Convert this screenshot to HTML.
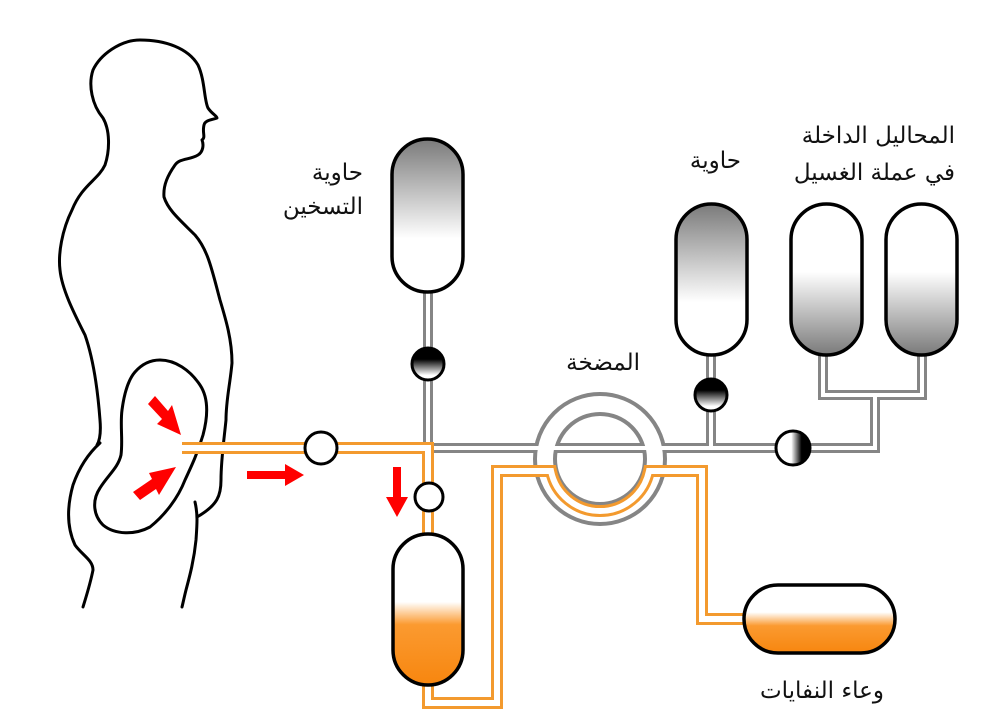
<!DOCTYPE html>
<html><head><meta charset="utf-8"><style>
html,body{margin:0;padding:0;background:#fff;}
svg{display:block}
text{font-family:"DejaVu Serif","Noto Serif CJK SC","Liberation Serif",serif;font-size:23px;fill:#111}
</style></head><body>
<svg width="1000" height="713" viewBox="0 0 1000 713" xmlns="http://www.w3.org/2000/svg">
<defs>
<linearGradient id="gTop" x1="0" y1="0" x2="0" y2="1">
<stop offset="0" stop-color="#7a7a7a"/><stop offset="0.65" stop-color="#fff"/><stop offset="1" stop-color="#fff"/></linearGradient>
<linearGradient id="gBot" x1="0" y1="0" x2="0" y2="1">
<stop offset="0" stop-color="#fff"/><stop offset="0.45" stop-color="#fff"/><stop offset="1" stop-color="#7a7a7a"/></linearGradient>
<linearGradient id="gOr" x1="0" y1="0" x2="0" y2="1">
<stop offset="0" stop-color="#fff"/><stop offset="0.45" stop-color="#fff"/><stop offset="0.6" stop-color="#fb9a30"/><stop offset="1" stop-color="#f7860f"/></linearGradient>
<linearGradient id="gOr2" x1="0" y1="0" x2="0" y2="1">
<stop offset="0" stop-color="#fff"/><stop offset="0.4" stop-color="#fff"/><stop offset="0.6" stop-color="#fb9a30"/><stop offset="1" stop-color="#f7860f"/></linearGradient>
<linearGradient id="vV" x1="0" y1="0" x2="0" y2="1">
<stop offset="0" stop-color="#000"/><stop offset="0.35" stop-color="#000"/><stop offset="0.85" stop-color="#fff"/></linearGradient>
<linearGradient id="vH" x1="0" y1="0" x2="1" y2="0">
<stop offset="0" stop-color="#fff"/><stop offset="0.45" stop-color="#fff"/><stop offset="0.75" stop-color="#000"/><stop offset="1" stop-color="#000"/></linearGradient>
</defs>

<!-- body -->
<g fill="none" stroke="#000" stroke-width="3" stroke-linejoin="round" stroke-linecap="round">
<path d="M140,40 C120,40 100,55 93,70 C88,85 92,105 103,118 C110,130 110,150 105,165 C98,180 82,185 72,210 C62,230 58,254 60,270 C62,290 75,315 85,335 C92,355 97,380 100,420 C101,432 100,440 97,445"/>
<path d="M100,443 C90,452 80,465 73,485 C66,510 68,530 75,545 C82,555 93,560 93,570 C90,585 86,597 83,607"/>
<path d="M140,40 C165,40 188,48 198,65 C205,80 204,100 208,108 C212,114 217,116 217,118 C212,120 205,120 204,125 C202,133 206,137 202,140 C204,145 203,152 198,155 C190,160 180,158 175,165 C168,175 163,185 164,197 C168,210 180,220 195,235 C208,250 212,270 220,300 C226,320 232,340 232,363 C230,385 226,400 226,420 C224,440 221,460 221,480 C221,495 218,505 197,517"/>
<path d="M195,502 C198,515 197,525 196,540 C194,560 190,575 186,590 C184,598 183,603 182,607"/>
<path d="M160,360 C175,360 190,370 200,385 C210,400 207,420 203,435 C198,452 192,465 185,480 C178,498 165,515 150,527 C135,535 115,535 103,525 C93,515 92,500 100,488 C108,475 118,468 121,455 C123,440 120,425 122,410 C124,395 128,380 135,372 C142,364 150,360 160,360 Z"/>
</g>

<!-- red arrows -->
<g fill="#f00">
<polygon points="148,404 155,396 168,411 172,405 181,435 157,424 162,419"/>
<polygon points="133,492 140,500 156,489 159,495 176,467 149,473 152,479"/>
<polygon points="247,471 285,471 285,464 304,475 285,486 285,479 247,479"/>
<polygon points="393,467 401,467 401,497 408,497 397,517 386,497 393,497"/>
<polygon points="424,562 432,562 432,628 441,628 428,652 415,628 424,628"/>
</g>

<!-- gray pipes -->
<g fill="none" stroke-linejoin="miter">
<g stroke="#858585" stroke-width="10">
<path d="M428,292 V448 H793"/>
<path d="M711,355 V448"/>
<path d="M823,355 V395 H922 V355"/>
<path d="M793,448 H875 V395"/>
<circle cx="600" cy="459" r="55" stroke-width="24"/>
</g>
<g stroke="#fff" stroke-width="4">
<path d="M428,288 V448 H793"/>
<path d="M711,355 V448"/>
<path d="M823,355 V395 H922 V355"/>
<path d="M793,448 H875 V395"/>
<circle cx="600" cy="459" r="55" stroke-width="16"/>
</g>
<rect x="537" y="446" width="22" height="4" fill="#fff" stroke="none"/>
<rect x="641" y="446" width="22" height="4" fill="#fff" stroke="none"/>
</g>

<!-- orange pipes -->
<g fill="none" stroke-linejoin="miter">
<g stroke="#f39a2e" stroke-width="12">
<path d="M182,448 H428 V535"/>
<path d="M428,685 V703 H497 V471 H551 A50,50 0 0,0 649,471 H702 V619 H745"/>
</g>
<g stroke="#fff" stroke-width="6">
<path d="M176,448 H428 V535"/>
<path d="M428,685 V703 H497 V471 H551 A50,50 0 0,0 649,471 H702 V619 H747"/>
</g>
</g>

<!-- valves -->
<g stroke="#000" stroke-width="3">
<circle cx="321" cy="448" r="16" fill="#fff"/>
<circle cx="429" cy="497" r="14" fill="#fff"/>
<circle cx="428" cy="364" r="16" fill="url(#vV)"/>
<circle cx="711" cy="395" r="16" fill="url(#vV)"/>
<circle cx="793" cy="448" r="17" fill="url(#vH)"/>
</g>

<!-- tanks -->
<g stroke="#000" stroke-width="3.5">
<rect x="392" y="139" width="71" height="153" rx="35.5" fill="url(#gTop)"/>
<rect x="676" y="204" width="71" height="151" rx="35.5" fill="url(#gTop)"/>
<rect x="791" y="204" width="71" height="151" rx="35.5" fill="url(#gBot)"/>
<rect x="886" y="204" width="71" height="151" rx="35.5" fill="url(#gBot)"/>
<rect x="393" y="534" width="70" height="151" rx="35" fill="url(#gOr)"/>
<rect x="744" y="585" width="151" height="68" rx="34" fill="url(#gOr2)"/>
</g>

<!-- labels -->
<g text-anchor="end">
<text x="363" y="180">حاوية</text>
<text x="363" y="214">التسخين</text>
<text x="741" y="168">حاوية</text>
<text x="955" y="143">المحاليل الداخلة</text>
<text x="955" y="180">في عملة الغسيل</text>
<text x="640" y="370">المضخة</text>
<text x="884" y="698">وعاء النفايات</text>
</g>
</svg>
</body></html>
